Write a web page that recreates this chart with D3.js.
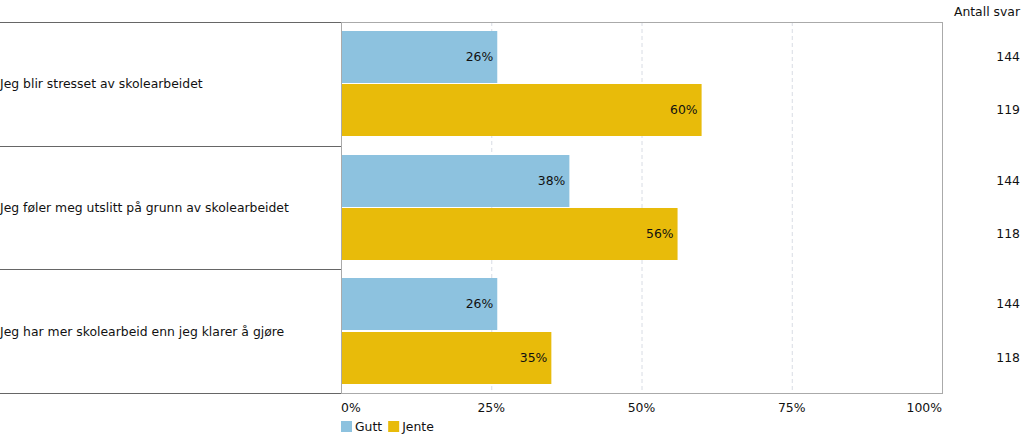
<!DOCTYPE html>
<html><head><meta charset="utf-8">
<script src="https://cdn.jsdelivr.net/npm/d3@7"></script>
<style>body{margin:0;background:#fff}svg{display:block}text{font-family:Verdana,"DejaVu Sans",sans-serif;font-size:12.4px;fill:#111}</style>
</head><body><svg id="c" width="1023" height="438"></svg>
<script>
const categories = ["Jeg blir stresset av skolearbeidet","Jeg føler meg utslitt på grunn av skolearbeidet","Jeg har mer skolearbeid enn jeg klarer å gjøre"];
const seriesNames = ["Gutt","Jente"];
const gutt = [26,38,26];
const jente = [60,56,35];
const guttN = [144,144,144];
const jenteN = [119,118,118];
const ticks = [0,25,50,75,100];
const colors = ["#8dc2df","#e8bb0a"];

const svg = d3.select("#c");
const L=341,R=942,T=22,B=393;
const x = d3.scaleLinear().domain([0,100]).range([L,R]);
const y = d3.scaleBand().domain(categories).range([T,B]);
const inner = d3.scaleBand().domain(seriesNames).range([9,y.bandwidth()-9]).paddingInner(0.02);

// grid
svg.append("g").selectAll("line").data(ticks.slice(1,4)).join("line")
 .attr("x1",d=>x(d)+0.5).attr("x2",d=>x(d)+0.5).attr("y1",T).attr("y2",B)
 .attr("stroke","#d8dce4").attr("stroke-dasharray","4,3");

const values = [gutt,jente];
const counts = [guttN,jenteN];
categories.forEach((c,i)=>{
  seriesNames.forEach((s,j)=>{
    const v = values[j][i];
    const y0 = Math.round(y(c)+inner(s));
    const h = Math.round(inner.bandwidth());
    svg.append("rect").attr("x",x(0)).attr("y",y0).attr("width",x(v)-x(0)).attr("height",h).attr("fill",colors[j]);
    svg.append("text").attr("x",x(v)-4).attr("y",y0+h/2).attr("dy","0.35em").attr("text-anchor","end").text(v+"%");
    svg.append("text").attr("x",1020).attr("y",y0+h/2).attr("dy","0.35em").attr("text-anchor","end").text(counts[j][i]);
  });
  svg.append("text").attr("x",0).attr("y",y(c)+y.bandwidth()/2).attr("dy","0.35em").text(c);
});

// left table lines
svg.append("g").selectAll("line").data(categories.map(c=>y(c)).concat([B])).join("line")
 .attr("x1",0).attr("x2",L).attr("y1",d=>Math.round(d)+0.5).attr("y2",d=>Math.round(d)+0.5).attr("stroke","#666");
// plot border
svg.append("rect").attr("x",L+0.5).attr("y",T+0.5).attr("width",R-L).attr("height",B-T).attr("fill","none").attr("stroke","#aaa");
svg.append("line").attr("x1",0).attr("x2",L).attr("y1",T+0.5).attr("y2",T+0.5).attr("stroke","#666");

// x axis labels
svg.append("g").selectAll("text").data(ticks).join("text")
 .attr("x",d=>x(d)).attr("y",412)
 .attr("text-anchor",(d,i)=>i==0?"start":(i==ticks.length-1?"end":"middle"))
 .text(d=>d+"%");

svg.append("text").attr("x",1020).attr("y",16).attr("text-anchor","end").text("Antall svar");

// legend
let lx=L;
seriesNames.forEach((s,j)=>{
  svg.append("rect").attr("x",lx).attr("y",421).attr("width",11).attr("height",11).attr("fill",colors[j]);
  const t = svg.append("text").attr("x",lx+14).attr("y",431).text(s);
  lx += 14 + t.node().getComputedTextLength()+6;
});
</script></body></html>
